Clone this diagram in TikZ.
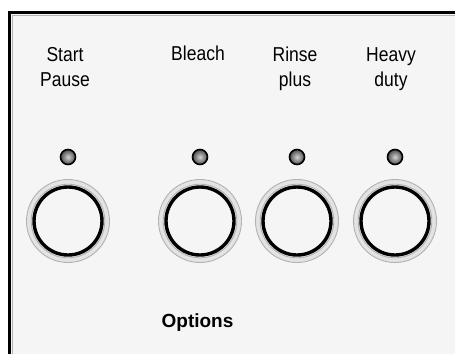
\documentclass[tikz,border=0pt]{standalone}
\usepackage{fontspec}
\setmainfont{Liberation Sans}
\newcommand{\tallt}[1]{\scalebox{1}[1.15]{\begin{tabular}[b]{@{}c@{}}#1\end{tabular}}}
\begin{document}
\begin{tikzpicture}[x=1pt,y=-1pt,
  lbl/.style={inner sep=0pt, anchor=base, font=\fontsize{17.5}{22}\selectfont},
  ttl/.style={inner sep=0pt, anchor=base, font=\bfseries\fontsize{19}{23}\selectfont},
  knob/.style={circle, minimum size=68pt, inner sep=0pt, draw=black, line width=3.4pt},
  led/.style={circle, minimum size=15pt, inner sep=0pt, draw=black, line width=1.6pt, inner color=gray!35, outer color=black!70},
  halo/.style={draw=gray!60, line width=0.9pt},
  haloband/.style={draw=gray!22, line width=5pt}]
\useasboundingbox (0,0) rectangle (455,354);
\fill[white] (0,0) rectangle (455,354);
\fill[black!4] (9,12) rectangle (455,354);
% frame
\draw[gray!60, line width=0.8pt] (12.5,354) -- (12.5,15.5) -- (455,15.5);
\draw[black, line width=3pt] (9.5,354) -- (9.5,12.5) -- (455,12.5);
% buttons
\foreach \n/\x in {1/68,2/200,3/297,4/395}{
  \node[led] (l\n) at (\x,157) {};
  \draw[haloband] (\x,221) circle (39);
  \draw[halo] (\x,221) circle (36.8);
  \draw[halo] (\x,221) circle (41.5);
  \node[knob] (b\n) at (\x,221) {};
}
% labels
\node[lbl] (t1) at (65,86.5) {\tallt{Start\\Pause}};
\node[lbl] (t2) at (198,60.5) {\tallt{Bleach}};
\node[lbl] (t3) at (295,86.5) {\tallt{Rinse\\plus}};
\node[lbl] (t4) at (391,86.5) {\tallt{Heavy\\duty}};
\node[ttl] (opt) at (197.5,327) {Options};
\end{tikzpicture}
\end{document}
